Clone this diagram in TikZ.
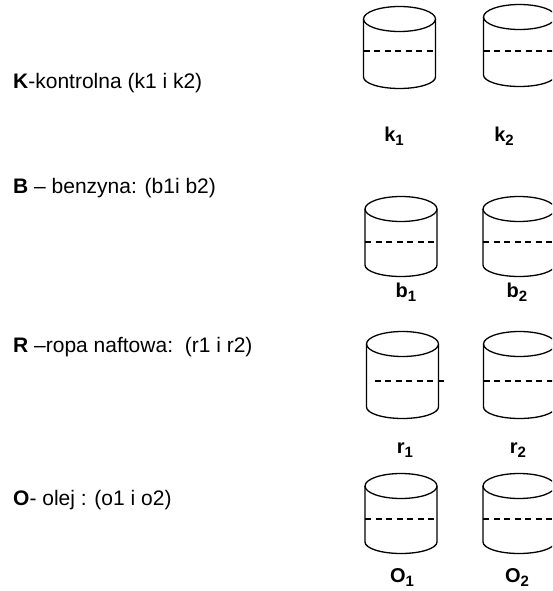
\documentclass[tikz,border=0pt]{standalone}
\usepackage{fontspec}
\setmainfont{Liberation Sans}
\tikzset{
  tankline/.style={line width=1.3pt, black},
  levelline/.style={line width=1.1pt, dash pattern=on 6pt off 4.5pt},
  tanklabel/.style={font=\fontsize{20}{20}\selectfont\bfseries, inner sep=0pt},
  legend/.style={font=\fontsize{21}{21}\selectfont, anchor=west, inner sep=0pt}
}
\newcommand{\tanksub}[1]{\raisebox{-4pt}{\fontsize{15}{15}\selectfont #1}}
% cylinder: [level shift]{centre x}{top y}{bottom y}{level y}
\newcommand{\tank}[5][0]{%
  \draw[tankline] (#2,#3) ellipse (36 and 12.5);
  \draw[tankline] (#2-36,#3) -- (#2-36,#4) arc (180:360:36 and 11.5) -- (#2+36,#3);
  \draw[levelline] (#2-36+#1,#5) -- (#2+36+#1,#5);
}
\begin{document}
\begin{tikzpicture}[x=1pt, y=1pt]
    \clip (0,0) rectangle (552,-591);
    % legend on the left
    \node[legend] (kt) at (13,-83) {\textbf{K}-kontrolna (k1 i k2)};
    \node[legend] (bt) at (13,-188) {\textbf{B} – benzyna: (b1i b2)};
    \node[legend] (rt) at (13,-347) {\textbf{R} –ropa naftowa:\ \ (r1 i r2)};
    \node[legend] (ot) at (13,-500) {\textbf{O}- olej : (o1 i o2)};
    % tanks, two per sample
    \tank{399.5}{-19}{-77}{-51}
    \tank{519.5}{-17}{-75}{-51}
    \tank{401}{-209}{-265}{-242}
    \tank{519}{-209}{-265}{-242}
    \tank[8]{402.5}{-344}{-407}{-381}
    \tank{519.5}{-344}{-407}{-381}
    \tank{401}{-486}{-542}{-519}
    \tank{519}{-486}{-542}{-519}
    % tank names
    \node[tanklabel] (k1) at (394,-136) {k\tanksub{1}};
    \node[tanklabel] (k2) at (504,-136) {k\tanksub{2}};
    \node[tanklabel] (b1) at (406,-292) {b\tanksub{1}};
    \node[tanklabel] (b2) at (517,-292) {b\tanksub{2}};
    \node[tanklabel] (r1) at (405,-450) {r\tanksub{1}};
    \node[tanklabel] (r2) at (518,-450) {r\tanksub{2}};
    \node[tanklabel] (o1) at (402,-578) {O\tanksub{1}};
    \node[tanklabel] (o2) at (517,-578) {O\tanksub{2}};
\end{tikzpicture}
\end{document}
